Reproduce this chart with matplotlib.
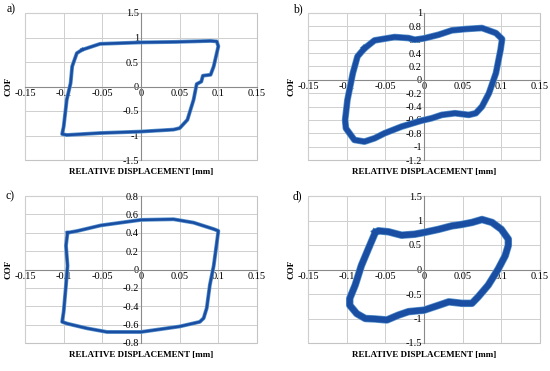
import matplotlib
matplotlib.use("Agg")
import matplotlib.pyplot as plt

plt.rcParams['font.family'] = ['Liberation Serif', 'DejaVu Serif']

# ---- data ----
a_x = [-0.076, -0.053, 0.000, 0.045, 0.090, 0.098, 0.100, 0.094, 0.090, 0.080, 0.078, 0.072,
       0.068, 0.060, 0.050, 0.042, 0.000, -0.053, -0.096, -0.102, -0.100, -0.096, -0.091,
       -0.089, -0.083, -0.076]
a_y = [0.75, 0.87, 0.90, 0.91, 0.93, 0.92, 0.82, 0.41, 0.24, 0.22, 0.10, 0.05,
       -0.27, -0.68, -0.85, -0.88, -0.92, -0.95, -0.99, -0.97, -0.82, -0.27, 0.07,
       0.41, 0.68, 0.75]

b_x = [-0.077, -0.064, -0.038, -0.020, -0.012, 0.000, 0.019, 0.036, 0.054, 0.075, 0.093,
       0.101, 0.099, 0.093, 0.084, 0.075, 0.067, 0.058, 0.040, 0.023, 0.010, -0.003,
       -0.029, -0.051, -0.064, -0.077, -0.090, -0.101, -0.102, -0.099, -0.092, -0.086, -0.077]
b_y = [0.47, 0.59, 0.64, 0.625, 0.60, 0.62, 0.675, 0.74, 0.76, 0.775, 0.70,
       0.61, 0.45, 0.10, -0.20, -0.40, -0.50, -0.525, -0.50, -0.525, -0.575, -0.61,
       -0.70, -0.80, -0.875, -0.925, -0.90, -0.725, -0.60, -0.30, 0.10, 0.35, 0.47]

c_x = [-0.095, -0.082, -0.052, 0.000, 0.042, 0.068, 0.094, 0.100, 0.098, 0.094, 0.089,
       0.085, 0.081, 0.076, 0.050, 0.000, -0.044, -0.070, -0.095, -0.102, -0.100, -0.097,
       -0.095, -0.097, -0.095]
c_y = [0.40, 0.42, 0.48, 0.54, 0.547, 0.51, 0.44, 0.42, 0.29, 0.04, -0.17,
       -0.42, -0.53, -0.57, -0.62, -0.68, -0.68, -0.64, -0.59, -0.57, -0.46, -0.17,
       0.04, 0.26, 0.40]

d_x = [-0.063, -0.059, -0.046, -0.029, -0.012, 0.000, 0.019, 0.036, 0.049, 0.062, 0.075,
       0.088, 0.100, 0.109, 0.109, 0.105, 0.096, 0.083, 0.070, 0.062, 0.049, 0.032,
       0.019, 0.000, -0.020, -0.033, -0.048, -0.063, -0.076, -0.087, -0.096, -0.096,
       -0.089, -0.081, -0.072, -0.063]
d_y = [0.755, 0.79, 0.77, 0.70, 0.72, 0.755, 0.82, 0.89, 0.92, 0.96, 1.02,
       0.96, 0.82, 0.62, 0.49, 0.28, 0.01, -0.32, -0.56, -0.69, -0.69, -0.66,
       -0.73, -0.83, -0.86, -0.93, -1.03, -1.01, -1.00, -0.90, -0.73, -0.59,
       -0.32, 0.08, 0.42, 0.755]

x_ticks = [-0.15, -0.1, -0.05, 0, 0.05, 0.1, 0.15]
x_labels = ['-0.15', '-0.1', '-0.05', '0', '0.05', '0.1', '0.15']
a_yticks = [-1.5, -1, -0.5, 0, 0.5, 1, 1.5]
a_ylabels = ['-1.5', '-1', '-0.5', '0', '0.5', '1', '1.5']
b_yticks = [-1.2, -1, -0.8, -0.6, -0.4, -0.2, 0, 0.2, 0.4, 0.6, 0.8, 1]
b_ylabels = ['-1.2', '-1', '-0.8', '-0.6', '-0.4', '-0.2', '0', '0.2', '0.4', '0.6', '0.8', '1']
c_yticks = [-0.8, -0.6, -0.4, -0.2, 0, 0.2, 0.4, 0.6, 0.8]
c_ylabels = ['-0.8', '-0.6', '-0.4', '-0.2', '0', '0.2', '0.4', '0.6', '0.8']
d_yticks = a_yticks
d_ylabels = a_ylabels
panel_tags = ['a)', 'b)', 'c)', 'd)']

fig = plt.figure(figsize=(5.5, 3.71), dpi=100)

W = 232 / 550
H = 147 / 371
specs = [
    (25 / 550, 1 - 160 / 371, a_x, a_y, a_yticks, a_ylabels, 1.8, -0.078, 1.027),
    (308 / 550, 1 - 160 / 371, b_x, b_y, b_yticks, b_ylabels, 3.8, -0.065, 1.027),
    (25 / 550, 1 - 343 / 371, c_x, c_y, c_yticks, c_ylabels, 1.8, -0.085, 1.0),
    (308 / 550, 1 - 343 / 371, d_x, d_y, d_yticks, d_ylabels, 4.4, -0.065, 1.0),
]

dark = '#1a4ea3'
light = '#5b95cc'

for i, (l, b, xs, ys, yt, yl, lw, tx, ty) in enumerate(specs):
    ax = fig.add_axes([l, b, W, H])
    ax.set_xlim(-0.15, 0.15)
    ax.set_ylim(yt[0], yt[-1])
    ax.set_xticks(x_ticks)
    ax.set_xticklabels(x_labels)
    ax.set_yticks(yt)
    ax.set_yticklabels(yl)
    ax.grid(True, color='#cfcfcf', lw=0.7)
    ax.set_axisbelow(True)
    ax.spines['left'].set_position('zero')
    ax.spines['bottom'].set_position('zero')
    ax.spines['top'].set_visible(False)
    ax.spines['right'].set_visible(False)
    for s in ('left', 'bottom'):
        ax.spines[s].set_color('#8a8a8a')
        ax.spines[s].set_linewidth(0.8)
    ax.patch.set_edgecolor('#c4c4c4')
    ax.patch.set_linewidth(0.8)
    ax.tick_params(length=0, labelsize=7.5, pad=1.5, colors='black')
    ax.plot(xs, ys, color=light, lw=lw + 1.0, solid_joinstyle='round', zorder=3)
    ax.plot(xs, ys, color=dark, lw=lw, solid_joinstyle='round', zorder=4)
    ax.text(0.5, -0.085, 'RELATIVE DISPLACEMENT [mm]', transform=ax.transAxes,
            ha='center', va='center', fontsize=6.5, fontweight='bold')
    ax.text(-0.07, 0.5, 'COF', transform=ax.transAxes, rotation=90,
            ha='center', va='center', fontsize=6.5, fontweight='bold')
    ax.text(tx, ty, panel_tags[i], transform=ax.transAxes,
            ha='left', va='center', fontsize=8.5)

fig.savefig('out.png', dpi=100)
